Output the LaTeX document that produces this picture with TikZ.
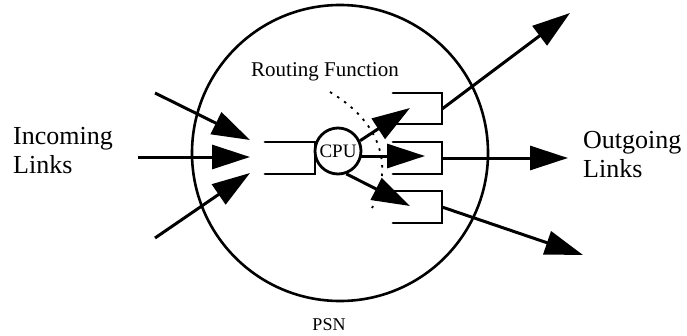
\documentclass[tikz,border=0pt]{standalone}
\usepackage{fontspec}
\setmainfont{Liberation Serif}
\usetikzlibrary{arrows.meta}
\begin{document}
\begin{tikzpicture}[x=1pt,y=-1pt,
  link/.style={line width=3pt,-{Triangle[length=38pt,width=24pt]}},
  buf/.style={line width=2.8pt,line cap=round,line join=miter},
  lbl/.style={inner sep=0pt,align=left,font=\fontsize{26}{28.5}\selectfont}]
\useasboundingbox (0,0) rectangle (687,335);
% PSN circle
\node[circle,draw,line width=2.6pt,minimum size=296pt,inner sep=0pt] (psn) at (340,153) {};
% CPU
\node[circle,draw,line width=2.8pt,minimum size=46pt,inner sep=0pt,font=\fontsize{19}{19}\selectfont] (cpu) at (338,151) {CPU};
% input buffer
\coordinate (ib1) at (265,142); \coordinate (ib2) at (315,142);
\coordinate (ib3) at (315,174); \coordinate (ib4) at (265,174);
\draw[buf] (ib1) -- (ib2) -- (ib3) -- (ib4);
% output buffers
\coordinate (oa1) at (393,93);  \coordinate (oa2) at (442,93);
\coordinate (oa3) at (442,124); \coordinate (oa4) at (393,124);
\coordinate (ob1) at (393,142); \coordinate (ob2) at (442,142);
\coordinate (ob3) at (442,174); \coordinate (ob4) at (393,174);
\coordinate (oc1) at (393,191); \coordinate (oc2) at (442,191);
\coordinate (oc3) at (442,223); \coordinate (oc4) at (393,223);
\draw[buf] (oa1) -- (oa2) -- (oa3) -- (oa4);
\draw[buf] (ob1) -- (ob2) -- (ob3) -- (ob4);
\draw[buf] (oc1) -- (oc2) -- (oc3) -- (oc4);
% incoming links
\coordinate (i1s) at (155,93);  \coordinate (i1t) at (250,140);
\coordinate (i2s) at (138,157); \coordinate (i2t) at (250,157);
\coordinate (i3s) at (155,238); \coordinate (i3t) at (250,173);
\draw[link] (i1s) -- (i1t);
\draw[link] (i2s) -- (i2t);
\draw[link] (i3s) -- (i3t);
% routing arrows
\coordinate (r1t) at (410,108);
\coordinate (r2s) at (361,156); \coordinate (r2t) at (425,156);
\coordinate (r3t) at (410,206);
\draw[link] (cpu.25) -- (r1t);
\draw[link] (r2s) -- (r2t);
\draw[link] (cpu.-70) -- (r3t);
% routing function dotted line
\coordinate (d1) at (330,92); \coordinate (d2) at (372,208);
\draw[line width=1.8pt,dash pattern=on 2.5pt off 6pt] (d1) .. controls (385,125) and (392,170) .. (d2);
% outgoing links
\coordinate (o1s) at (442,109); \coordinate (o1t) at (570,13);
\coordinate (o2s) at (442,158); \coordinate (o2t) at (568,158);
\coordinate (o3s) at (442,207); \coordinate (o3t) at (583,255);
\draw[link] (o1s) -- (o1t);
\draw[link] (o2s) -- (o2t);
\draw[link] (o3s) -- (o3t);
% labels
\node[lbl,anchor=base west] (inc) at (13,173) {Incoming\\Links};
\node[lbl,anchor=base west] (out) at (583,177) {Outgoing\\Links};
\node[inner sep=0pt,anchor=base west,font=\fontsize{21}{21}\selectfont] (rf) at (251,76) {Routing Function};
\node[inner sep=0pt,anchor=base,font=\fontsize{18}{18}\selectfont] (psnl) at (329,330) {PSN};
\end{tikzpicture}
\end{document}
